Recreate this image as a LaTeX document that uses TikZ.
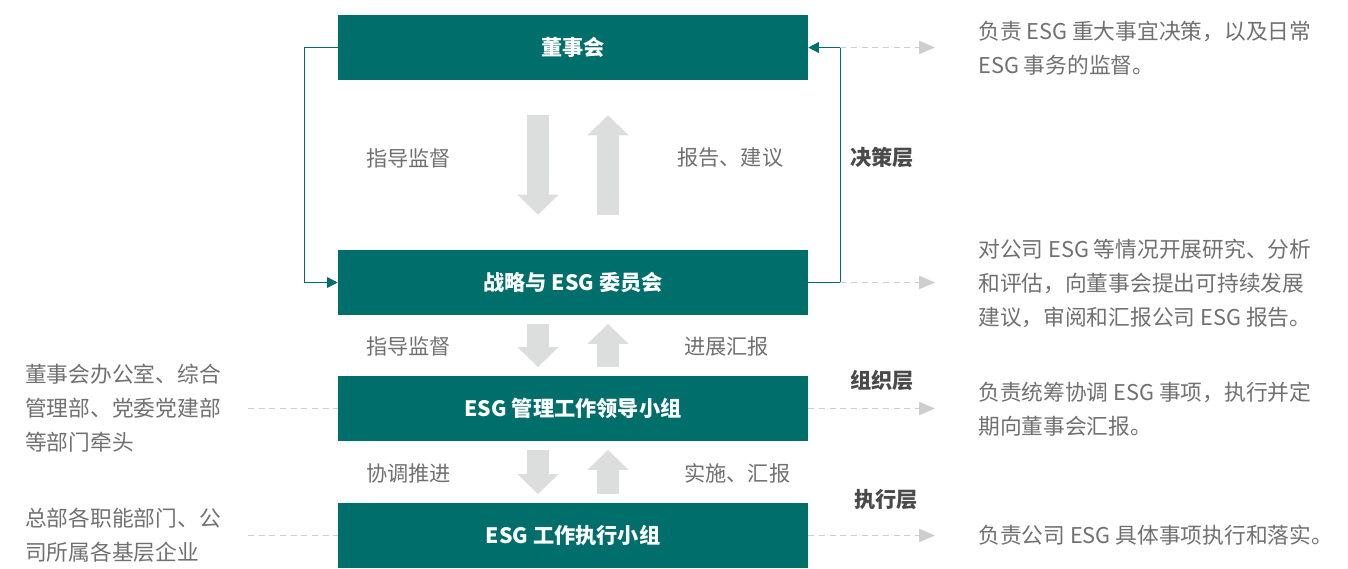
\documentclass[tikz,border=0pt]{standalone}
\usepackage{fontspec}
\setmainfont{Noto Sans CJK SC}
\usetikzlibrary{arrows.meta, positioning}

\definecolor{esgteal}{HTML}{006E6A}
\definecolor{bigarrowgray}{HTML}{DCDDDD}
\definecolor{dashgray}{HTML}{CDCECE}
\definecolor{textgray}{HTML}{707070}
\definecolor{layergray}{HTML}{4A4A4A}

\newcommand{\esgsize}{\fontsize{15.9pt}{25.5pt}\selectfont}
\newcommand{\notesize}{\fontsize{16.3pt}{25.5pt}\selectfont}

\tikzset{
  orgbox/.style={fill=esgteal, text=white, font=\esgsize\bfseries,
    minimum width=352.5pt, minimum height=48.75pt, inner sep=0pt},
  flowlabel/.style={text=textgray, anchor=west, inner sep=0pt},
  layerlabel/.style={text=layergray, font=\esgsize\bfseries},
  sidenote/.style={text=textgray, font=\notesize, align=left, anchor=west, inner sep=0pt},
  bigarrow/.style={draw=bigarrowgray, line width=16.5pt,
    -{Triangle[length=15pt, width=30pt]}},
  loopline/.style={draw=esgteal, line width=1.1pt,
    -{Triangle[length=8pt, width=8pt]}},
  dashline/.style={draw=dashgray, line width=0.9pt, dash pattern=on 4.5pt off 3.5pt},
  dasharrow/.style={dashline, -{Triangle[length=12pt, width=10pt, fill=dashgray]}},
}

\begin{document}
\begin{tikzpicture}[x=0.75pt, y=-0.75pt, font=\esgsize, on grid]
    \useasboundingbox (0,0) rectangle (1348,568);

    % the four bodies
    \node[orgbox] (board) at (573,47.5) {董事会};
    \node[orgbox] (committee) [below=176.25pt of board] {战略与 ESG 委员会};
    \node[orgbox] (mgmt) [below=94.5pt of committee] {ESG 管理工作领导小组};
    \node[orgbox] (exec) [below=95.25pt of mgmt] {ESG 工作执行小组};

    % big gray arrows between the bodies
    \foreach \upper/\lower/\gap in {board/committee/26.25pt, committee/mgmt/6.5pt, mgmt/exec/6.5pt} {
        \draw[bigarrow] ([xshift=-26.25pt, yshift=-\gap]\upper.south) -- ([xshift=-26.25pt, yshift=\gap]\lower.north);
        \draw[bigarrow] ([xshift=26.25pt, yshift=\gap]\lower.north) -- ([xshift=26.25pt, yshift=-\gap]\upper.south);
    }

    \node[flowlabel] (guide1) at (366,158) {指导监督};
    \node[flowlabel] (report1) at (677,158) {报告、建议};
    \node[flowlabel] (guide2) at (366,346) {指导监督};
    \node[flowlabel] (report2) at (684,346) {进展汇报};
    \node[flowlabel] (coord3) at (366,473) {协调推进};
    \node[flowlabel] (report3) at (684,473) {实施、汇报};

    \node[layerlabel] (decide) at (882,157) {决策层};
    \node[layerlabel] (organize) at (882,380) {组织层};
    \node[layerlabel] (execute) at (886,500) {执行层};

    % teal loop
    \draw[loopline] (board.west) -- ++(-33,0) |- (committee.west);
    \draw[loopline] (committee.east) -- ++(32,0) |- (board.east);

    % notes
    \node[sidenote] (boardnote) at (978,48) {负责 ESG 重大事宜决策，以及日常\\ESG 事务的监督。};
    \node[sidenote] (committeenote) at (978,283) {对公司 ESG 等情况开展研究、分析\\和评估，向董事会提出可持续发展\\建议，审阅和汇报公司 ESG 报告。};
    \node[sidenote] (mgmtnote) at (978,409) {负责统筹协调 ESG 事项，执行并定\\期向董事会汇报。};
    \node[sidenote] (execnote) at (978,535.5) {负责公司 ESG 具体事项执行和落实。};
    \node[sidenote] (mgmtlead) at (25,408.5) {董事会办公室、综合\\管理部、党委党建部\\等部门牵头};
    \node[sidenote] (execlead) at (25,535.5) {总部各职能部门、公\\司所属各基层企业};

    \coordinate (boardtip) at (935,47.5);
    \coordinate (committeetip) at (935,282.5);
    \coordinate (mgmttip) at (935,408.5);
    \coordinate (exectip) at (935,535.5);
    \coordinate (mgmtsrc) at (248,408.5);
    \coordinate (execsrc) at (248,535.5);

    \draw[dasharrow] ([xshift=24pt]board.east) -- (boardtip);
    \draw[dasharrow] ([xshift=24pt]committee.east) -- (committeetip);
    \draw[dasharrow] (mgmt.east) -- (mgmttip);
    \draw[dasharrow] (exec.east) -- (exectip);
    \draw[dashline] (mgmtsrc) -- (mgmt.west);
    \draw[dashline] (execsrc) -- (exec.west);
\end{tikzpicture}
\end{document}
